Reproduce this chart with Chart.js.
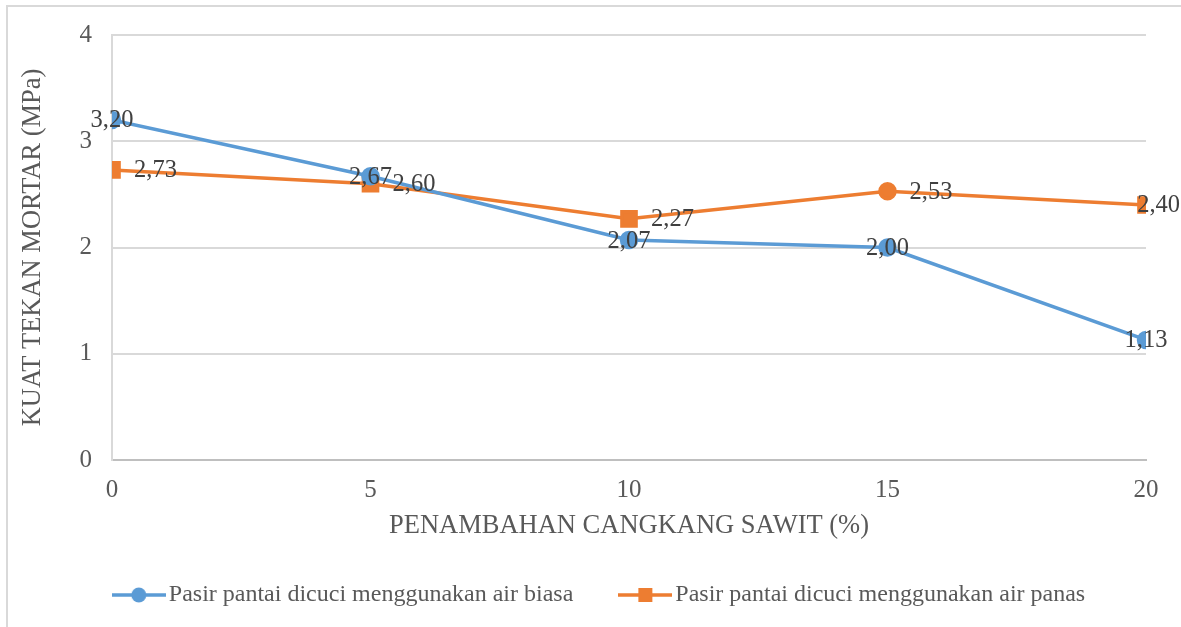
<!DOCTYPE html>
<html>
<head>
<meta charset="utf-8">
<script src="https://cdn.jsdelivr.net/npm/chart.js@4"></script>
<style>
html,body{margin:0;padding:0;background:#fff}
#wrap{width:1181px;height:627px;position:relative}
</style>
</head>
<body>
<div id="wrap"><canvas id="c" width="1181" height="627"></canvas></div>
<script>
// data
let persen=[0,5,10,15,20]
let airBiasa=[3.20,2.67,2.07,2.00,1.13]
let airPanas=[2.73,2.60,2.27,2.53,2.40]
let yTicks=[0,1,2,3,4]

let serif="'Liberation Serif','Times New Roman',serif"
let blue="#5B9BD5"
let orange="#ED7D31"

function legendIcon(color,style){
let cv=document.createElement("canvas")
cv.width=54
cv.height=18
let g=cv.getContext("2d")
g.strokeStyle=color
g.lineWidth=3.5
g.beginPath()
g.moveTo(0,9)
g.lineTo(54,9)
g.stroke()
g.fillStyle=color
if(style=="circle"){
g.beginPath()
g.arc(27,9,7.5,0,Math.PI*2)
g.fill()
}else{
g.fillRect(20,2,14,14)
}
return cv
}

let frame={
id:"frame",
beforeDraw(chart){
let ctx=chart.ctx
ctx.save()
ctx.fillStyle="#fff"
ctx.fillRect(0,0,chart.width,chart.height)
ctx.strokeStyle="#d9d9d9"
ctx.lineWidth=2
ctx.beginPath()
ctx.moveTo(7,chart.height)
ctx.lineTo(7,6)
ctx.lineTo(chart.width,6)
ctx.stroke()
ctx.restore()
}
}

// nudge legend and x title to where the original has them
let nudge={
id:"nudge",
afterLayout(chart){
chart.legend.left+=50
chart.legend.top-=10
chart.scales.x.bottom+=3
}
}

let valueLabels={
id:"valueLabels",
afterDatasetsDraw(chart){
let ctx=chart.ctx
ctx.save()
ctx.font="24.5px "+serif
ctx.fillStyle="#404040"
ctx.textBaseline="middle"
chart.data.datasets.forEach((ds,i)=>{
let meta=chart.getDatasetMeta(i)
meta.data.forEach((pt,j)=>{
let txt=ds.data[j].y.toFixed(2).replace(".",",")
let w=ctx.measureText(txt).width
if(i==0){
ctx.textAlign="center"
ctx.fillText(txt,pt.x,pt.y+1)
}else{
ctx.textAlign="left"
let x=Math.min(pt.x+22,chart.width-w-1)
ctx.fillText(txt,x,pt.y+1)
}
})
})
ctx.restore()
}
}

let chart=new Chart(document.getElementById("c"),{
type:"line",
data:{
datasets:[{
label:"Pasir pantai dicuci menggunakan air biasa",
data:persen.map((x,i)=>({x:x,y:airBiasa[i]})),
borderColor:blue,
backgroundColor:blue,
borderWidth:3.5,
pointStyle:"circle",
pointRadius:7.5,
pointHoverRadius:7.5
},{
label:"Pasir pantai dicuci menggunakan air panas",
data:persen.map((x,i)=>({x:x,y:airPanas[i]})),
borderColor:orange,
backgroundColor:orange,
borderWidth:3.5,
pointStyle:["rect","rect","rect","circle","rect"],
pointRadius:[10,10,10,7.5,10],
pointHoverRadius:[10,10,10,7.5,10]
}]
},
options:{
responsive:false,
animation:false,
events:[],
layout:{padding:{left:10,top:35,right:35,bottom:0}},
scales:{
x:{
type:"linear",
min:0,
max:20,
afterBuildTicks(s){s.ticks=persen.map(v=>({value:v}))},
afterFit(s){s.height=79},
grid:{display:false},
border:{display:true,color:"#bfbfbf",width:2},
ticks:{color:"#595959",font:{family:serif,size:25},padding:7,maxRotation:0},
title:{display:true,text:"PENAMBAHAN CANGKANG SAWIT (%)",color:"#595959",font:{family:serif,size:26.5},padding:{top:0,bottom:0}}
},
y:{
min:0,
max:4,
afterBuildTicks(s){s.ticks=yTicks.map(v=>({value:v}))},
afterFit(s){s.width=102},
grid:{color:"#d9d9d9",lineWidth:2,drawTicks:false},
border:{display:true,color:"#d9d9d9",width:2},
ticks:{color:"#595959",font:{family:serif,size:25},padding:20},
title:{display:true,text:"KUAT TEKAN MORTAR (MPa)",color:"#595959",font:{family:serif,size:26.5},padding:{top:7,bottom:0}}
}
},
plugins:{
legend:{
position:"bottom",
labels:{
usePointStyle:true,
pointStyleWidth:36,
padding:54,
color:"#595959",
font:{family:serif,size:24},
generateLabels(chart){
return chart.data.datasets.map((ds,i)=>({
text:ds.label,
fillStyle:ds.borderColor,
strokeStyle:ds.borderColor,
fontColor:"#595959",
pointStyle:legendIcon(ds.borderColor,i==0?"circle":"rect"),
datasetIndex:i
}))
}
}
},
tooltip:{enabled:false}
}
},
plugins:[frame,valueLabels,nudge]
})
</script>
</body>
</html>
